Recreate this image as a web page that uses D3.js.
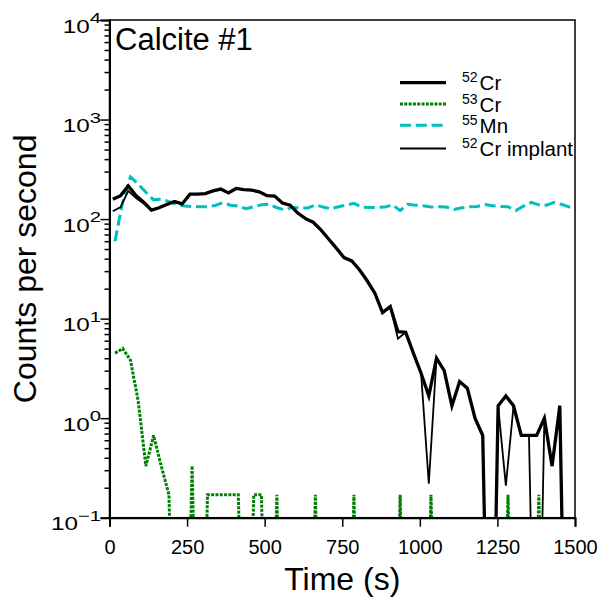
<!DOCTYPE html>
<html>
<head>
<meta charset="utf-8">
<script src="https://cdn.jsdelivr.net/npm/d3@7"></script>
<style>
body { margin: 0; background: #fff; }
text { font-family: "Liberation Sans", Arial, sans-serif; fill: #000; }
</style>
</head>
<body>
<svg id="chart" width="600" height="606"></svg>
<script>
// acquisition times (s) of each sweep, per mass
const tCr52 = [10.8, 35.7, 60.5, 85.3, 110.2, 135.0, 159.8, 184.6, 209.5, 234.3,
	259.1, 284.0, 308.8, 333.6, 358.5, 383.3, 408.1, 432.9, 457.8, 482.6,
	507.4, 532.3, 557.1, 581.9, 606.8, 631.6, 656.4, 681.2, 706.1, 730.9,
	755.7, 780.6, 805.4, 830.2, 855.1, 879.9, 904.7, 929.5, 954.4, 979.2,
	1004.0, 1028.9, 1053.7, 1078.5, 1103.4, 1128.2, 1153.0, 1177.8, 1202.7, 1227.5,
	1252.3, 1277.2, 1302.0, 1326.8, 1351.7, 1376.5, 1401.3, 1426.1, 1451.0, 1475.8];
const tCr53Mn = [17.8, 42.7, 67.5, 92.3, 117.2, 142.0, 166.8, 191.6, 216.5, 241.3,
	266.1, 291.0, 315.8, 340.6, 365.5, 390.3, 415.1, 439.9, 464.8, 489.6,
	514.4, 539.3, 564.1, 588.9, 613.8, 638.6, 663.4, 688.2, 713.1, 737.9,
	762.7, 787.6, 812.4, 837.2, 862.1, 886.9, 911.7, 936.5, 961.4, 986.2,
	1011.0, 1035.9, 1060.7, 1085.5, 1110.4, 1135.2, 1160.0, 1184.8, 1209.7, 1234.5,
	1259.3, 1284.2, 1309.0, 1333.8, 1358.7, 1383.5, 1408.3, 1433.1, 1458.0, 1482.8, 1507.6];

// counts per second
const cr52 = [158, 172, 215, 172, 148, 123, 130, 140, 150, 142,
	178, 178, 180, 192, 200, 183, 203, 198, 195, 188,
	172, 170, 145, 138, 115, 101, 93, 78, 63, 51,
	41, 38, 31, 24, 18, 11.5, 13.2, 7.4, 7.3, 4.5,
	2.83, 1.67, 4.0, 3.0, 1.33, 2.33, 2.0, 1.0, 0.67, 0,
	1.33, 1.67, 1.33, 0.67, 0.67, 0.67, 1.0, 0.33, 1.33, 0];
const cr52Implant = [120, 132, 192, 163, 143, 123, 130, 140, 150, 142,
	178, 178, 180, 192, 200, 183, 203, 198, 195, 188,
	172, 170, 145, 138, 115, 101, 93, 78, 63, 51,
	41, 38, 31, 24, 18, 11.5, 13.2, 6.3, 7.3, 4.5,
	2.83, 0.22, 4.0, 3.0, 1.33, 2.33, 2.0, 1.0, 0.67, 0,
	1.33, 0.21, 1.33, 0.67, 0.67, 0, 1.0, 0.33, 1.33, 0];
const cr53 = [4.5, 5.0, 3.83, 1.5, 0.33, 0.67, 0.33, 0.17, 0, 0,
	0.33, 0, 0.17, 0.17, 0.17, 0.17, 0.17, 0, 0.17, 0.17,
	0, 0.17, 0, 0, 0, 0, 0.17, 0, 0, 0,
	0, 0.17, 0, 0, 0, 0, 0, 0.17, 0, 0,
	0, 0.17, 0, 0, 0, 0, 0, 0, 0, 0,
	0, 0.17, 0, 0, 0, 0.17, 0, 0, 0, 0];
const mn55 = [60, 150, 265, 225, 186, 156, 158, 150, 140, 135,
	134, 133, 133, 137, 146, 138, 135, 127, 133, 139,
	141, 130, 124, 131, 130, 129, 139, 132, 127, 133,
	138, 144, 132, 131, 131, 132, 139, 122, 141, 138,
	136, 132, 133, 132, 125, 130, 133, 134, 140, 136,
	134, 133, 122, 135, 147, 139, 138, 147, 140, 132, 133];

const xTicks = [0, 250, 500, 750, 1000, 1250, 1500];
const yTicks = [0.1, 1, 10, 100, 1000, 10000];
const yTickExp = ["\u22121", "0", "1", "2", "3", "4"];
const legendNames = [["52", "Cr"], ["53", "Cr"], ["55", "Mn"], ["52", "Cr implant"]];

const svg = d3.select("#chart");
const mLeft = 109.5, mRight = 575, mTop = 20, mBottom = 517.7;

const x = d3.scaleLinear().domain([0, 1500]).range([mLeft, mRight]);
const y = d3.scaleLog().domain([0.1, 10000]).range([mBottom, mTop]);

// zero counts drop straight off the bottom of the log axis
const floorVal = 1e-4;

const series = [
	{ t: tCr53Mn, v: mn55, color: "#00bfbf", width: 3, dash: "11,4.8" },
	{ t: tCr53Mn, v: cr53, color: "#008000", width: 3, dash: "3,1.3" },
	{ t: tCr52, v: cr52, color: "#000", width: 3.3, dash: null },
	{ t: tCr52, v: cr52Implant, color: "#000", width: 1.8, dash: null }
];

svg.append("clipPath").attr("id", "plotclip")
	.append("rect")
	.attr("x", mLeft).attr("y", mTop)
	.attr("width", mRight - mLeft).attr("height", mBottom - mTop);

const line = d3.line()
	.x(d => x(d[0]))
	.y(d => y(Math.max(d[1], floorVal)));

const plot = svg.append("g").attr("clip-path", "url(#plotclip)");

series.forEach(s => {
	const pts = s.v.map((v, i) => [s.t[i], v]);
	plot.append("path")
		.attr("d", line(pts))
		.attr("fill", "none")
		.attr("stroke", s.color)
		.attr("stroke-width", s.width)
		.attr("stroke-linejoin", "miter")
		.attr("stroke-dasharray", s.dash);
});

// frame
svg.append("rect")
	.attr("x", mLeft).attr("y", mTop)
	.attr("width", mRight - mLeft).attr("height", mBottom - mTop)
	.attr("fill", "none").attr("stroke", "#000").attr("stroke-width", 1.5);

// x axis
const xAxis = d3.axisBottom(x).tickValues(xTicks).tickSize(9).tickFormat(d3.format("d"));
const gx = svg.append("g").attr("transform", `translate(0,${mBottom})`).call(xAxis);
gx.select(".domain").attr("stroke-width", 2);
gx.selectAll(".tick line").attr("stroke-width", 1.5);
gx.selectAll(".tick text")
	.attr("dy", null).attr("y", 36)
	.style("font-family", "'Liberation Sans', Arial, sans-serif")
	.style("font-size", "20px");

// y axis: majors with labels, minors without
const minor = [];
yTicks.slice(0, -1).forEach(d => { for (let k = 2; k < 10; k++) minor.push(d * k); });
const gy = svg.append("g").attr("transform", `translate(${mLeft},0)`);
gy.call(d3.axisLeft(y).tickValues(minor).tickSize(5).tickFormat(""));
gy.call(g => g.selectAll(".tick line").attr("stroke-width", 1.5));
const gyMajor = svg.append("g").attr("transform", `translate(${mLeft},0)`)
	.call(d3.axisLeft(y).tickValues(yTicks).tickSize(9).tickFormat(""));
gyMajor.select(".domain").attr("stroke-width", 2);
gyMajor.selectAll(".tick line").attr("stroke-width", 1.5);

const yLab = svg.append("g");
yTicks.forEach((d, i) => {
	const t = yLab.append("text")
		.attr("transform", `translate(101,${y(d) + 12.5}) scale(1.35,1)`)
		.attr("text-anchor", "end")
		.style("font-size", "18px");
	t.append("tspan").text("10");
	t.append("tspan").attr("dy", -9.5).style("font-size", "15px").text(yTickExp[i]);
});

// axis titles
svg.append("text")
	.attr("x", (mLeft + mRight) / 2).attr("y", 590)
	.attr("text-anchor", "middle")
	.style("font-size", "32px")
	.text("Time (s)");
svg.append("text")
	.attr("transform", `translate(36,${(mTop + mBottom) / 2}) rotate(-90)`)
	.attr("text-anchor", "middle")
	.style("font-size", "32px")
	.text("Counts per second");

svg.append("text")
	.attr("x", 115).attr("y", 50)
	.style("font-size", "31px")
	.text("Calcite #1");

// legend
const legRows = [82.7, 104, 125.3, 148.5];
const leg = svg.append("g");
[2, 1, 0, 3].forEach((si, r) => {
	const s = series[si];
	leg.append("line")
		.attr("x1", 400).attr("x2", 446)
		.attr("y1", legRows[r]).attr("y2", legRows[r])
		.attr("stroke", s.color)
		.attr("stroke-width", s.width)
		.attr("stroke-dasharray", s.dash);
	const t = leg.append("text")
		.attr("x", 462).attr("y", legRows[r] + 7.5)
		.style("font-size", "20.5px");
	t.append("tspan").attr("dy", -8).style("font-size", "14px").text(legendNames[r][0]);
	t.append("tspan").attr("dy", 8).attr("dx", 2).text(legendNames[r][1]);
});
</script>
</body>
</html>
